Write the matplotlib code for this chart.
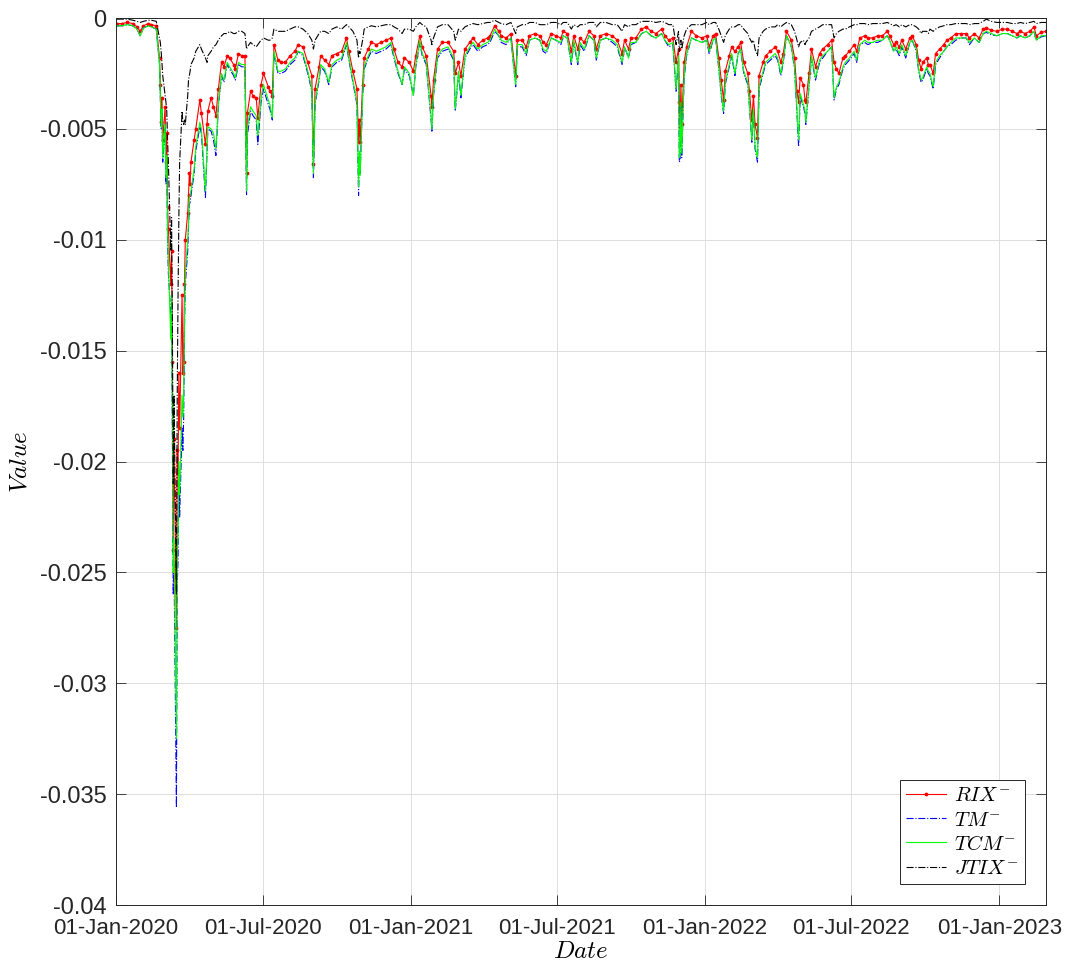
import matplotlib
matplotlib.use("Agg")
import matplotlib.pyplot as plt
import matplotlib.dates as mdates
import numpy as np
import pandas as pd

# downside tail-risk measures (x 1e-3), one value per observation date
dates = [
    # Jan - Feb 2020
    "2020-01-02", "2020-01-08", "2020-01-15", "2020-01-22", "2020-01-27", "2020-01-31",
    "2020-02-04", "2020-02-10", "2020-02-14", "2020-02-20",
    # Covid crash
    "2020-02-24", "2020-02-25", "2020-02-26", "2020-02-27", "2020-02-28",
    "2020-03-02", "2020-03-03", "2020-03-04", "2020-03-05", "2020-03-06",
    "2020-03-09", "2020-03-10", "2020-03-11", "2020-03-12", "2020-03-13",
    "2020-03-16", "2020-03-17", "2020-03-18", "2020-03-19", "2020-03-20",
    "2020-03-23", "2020-03-24", "2020-03-25", "2020-03-26", "2020-03-27",
    "2020-03-30", "2020-03-31", "2020-04-01", "2020-04-02", "2020-04-03",
    # Apr - Aug 2020
    "2020-04-07", "2020-04-09", "2020-04-14", "2020-04-16", "2020-04-21", "2020-04-23",
    "2020-04-24", "2020-04-28", "2020-05-01", "2020-05-04", "2020-05-07", "2020-05-11",
    "2020-05-14", "2020-05-18", "2020-05-21", "2020-05-26", "2020-05-28", "2020-06-01",
    "2020-06-05", "2020-06-09", "2020-06-11", "2020-06-12", "2020-06-16", "2020-06-19",
    "2020-06-23", "2020-06-25", "2020-06-29", "2020-07-02", "2020-07-08", "2020-07-10",
    "2020-07-13", "2020-07-15", "2020-07-20", "2020-07-24", "2020-07-29", "2020-08-04",
    "2020-08-10", "2020-08-14",
    # Aug 2020 - Apr 2021
    "2020-08-20", "2020-08-26", "2020-08-31", "2020-09-02", "2020-09-04", "2020-09-09",
    "2020-09-11", "2020-09-16", "2020-09-21", "2020-09-25", "2020-10-01", "2020-10-07",
    "2020-10-13", "2020-10-16", "2020-10-21", "2020-10-26", "2020-10-28", "2020-10-29",
    "2020-10-30", "2020-11-02", "2020-11-04", "2020-11-09", "2020-11-13", "2020-11-19",
    "2020-11-25", "2020-12-01", "2020-12-07", "2020-12-11", "2020-12-16", "2020-12-21",
    "2020-12-24", "2020-12-30", "2021-01-04", "2021-01-07", "2021-01-12", "2021-01-15",
    "2021-01-20", "2021-01-26", "2021-01-27", "2021-01-29", "2021-02-03", "2021-02-09",
    "2021-02-16", "2021-02-23", "2021-02-25", "2021-03-01", "2021-03-04", "2021-03-09",
    "2021-03-15", "2021-03-19", "2021-03-25", "2021-03-31", "2021-04-06",
    # Apr - Nov 2021
    "2021-04-09", "2021-04-15", "2021-04-20", "2021-04-23", "2021-04-29", "2021-05-05",
    "2021-05-11", "2021-05-13", "2021-05-19", "2021-05-24", "2021-05-28", "2021-06-04",
    "2021-06-10", "2021-06-14", "2021-06-18", "2021-06-24", "2021-06-30", "2021-07-06",
    "2021-07-09", "2021-07-14", "2021-07-19", "2021-07-22", "2021-07-27", "2021-07-30",
    "2021-08-04", "2021-08-10", "2021-08-16", "2021-08-19", "2021-08-24", "2021-08-31",
    "2021-09-08", "2021-09-14", "2021-09-20", "2021-09-23", "2021-09-28", "2021-10-01",
    "2021-10-07", "2021-10-14", "2021-10-20", "2021-10-26", "2021-11-01", "2021-11-08",
    "2021-11-12", "2021-11-17", "2021-11-22",
    # Nov 2021 - Jul 2022
    "2021-11-26", "2021-11-29", "2021-11-30", "2021-12-01", "2021-12-02", "2021-12-03",
    "2021-12-06", "2021-12-09", "2021-12-15", "2021-12-21", "2021-12-28", "2022-01-03",
    "2022-01-06", "2022-01-11", "2022-01-14", "2022-01-18", "2022-01-21", "2022-01-24",
    "2022-01-26", "2022-01-31", "2022-02-03", "2022-02-07", "2022-02-11", "2022-02-14",
    "2022-02-18", "2022-02-23", "2022-02-25", "2022-02-28", "2022-03-02", "2022-03-04",
    "2022-03-07", "2022-03-09", "2022-03-14", "2022-03-17", "2022-03-23", "2022-03-29",
    "2022-04-01", "2022-04-05", "2022-04-08", "2022-04-12", "2022-04-18", "2022-04-22",
    "2022-04-25", "2022-04-27", "2022-04-29", "2022-05-03", "2022-05-05", "2022-05-06",
    "2022-05-10", "2022-05-13", "2022-05-18", "2022-05-23", "2022-05-27", "2022-06-02",
    "2022-06-07", "2022-06-10", "2022-06-13", "2022-06-16", "2022-06-21", "2022-06-24",
    "2022-06-29", "2022-07-05",
    # Jul 2022 - Feb 2023
    "2022-07-08", "2022-07-12", "2022-07-18", "2022-07-22", "2022-07-28", "2022-08-03",
    "2022-08-09", "2022-08-15", "2022-08-18", "2022-08-23", "2022-08-26", "2022-08-30",
    "2022-09-02", "2022-09-07", "2022-09-12", "2022-09-15", "2022-09-20", "2022-09-23",
    "2022-09-26", "2022-09-28", "2022-10-03", "2022-10-05", "2022-10-07", "2022-10-11",
    "2022-10-14", "2022-10-19", "2022-10-24", "2022-10-28", "2022-11-02", "2022-11-08",
    "2022-11-14", "2022-11-21", "2022-11-25", "2022-12-01", "2022-12-07", "2022-12-12",
    "2022-12-16", "2022-12-22", "2022-12-29", "2023-01-05", "2023-01-11", "2023-01-17",
    "2023-01-23", "2023-01-27", "2023-02-02", "2023-02-08", "2023-02-13", "2023-02-16",
    "2023-02-22", "2023-02-28",
]

rix = [
    -0.25, -0.25, -0.2, -0.25, -0.4, -0.6, -0.35, -0.25, -0.3, -0.35,
    -1.8, -3.0, -4.7, -3.6, -5.5, -4.0, -6.5, -5.2, -8.5, -9.5,
    -12.0, -10.5, -15.5, -24.0, -19.0, -27.5, -19.5, -20.5, -16.0, -18.5,
    -12.5, -16.0, -15.5, -12.0, -10.0, -8.8, -8.0, -7.0, -7.5, -6.5,
    -5.5, -5.0, -3.7, -4.3, -5.7, -4.8, -4.2, -3.6, -4.0, -4.4, -3.2, -2.0,
    -2.2, -1.7, -1.8, -2.1, -2.3, -1.6, -1.7, -1.7, -7.0, -4.3, -3.3, -3.5,
    -3.6, -4.5, -3.0, -2.5, -3.1, -3.3, -3.5, -1.2, -1.9, -2.0, -2.0, -1.7,
    -1.5, -1.2,
    -1.3, -2.0, -2.6, -6.6, -3.2, -2.2, -1.7, -1.9, -2.1, -1.7, -1.6, -1.5,
    -0.9, -1.5, -2.4, -3.2, -5.6, -4.6, -5.6, -3.0, -1.8, -1.4, -1.1, -1.2,
    -1.1, -1.0, -0.9, -1.4, -2.0, -2.2, -1.8, -2.0, -2.4, -1.7, -0.8, -1.3,
    -1.7, -3.5, -4.0, -2.8, -1.4, -1.1, -1.1, -1.5, -2.5, -2.0, -2.6, -1.4,
    -1.1, -0.9, -1.2, -1.0, -0.9,
    -0.8, -0.35, -0.6, -0.8, -0.9, -0.7, -2.6, -1.0, -1.0, -1.3, -0.8, -0.7,
    -0.8, -1.1, -1.2, -0.7, -0.8, -0.9, -0.6, -0.7, -1.5, -0.8, -1.4, -0.9,
    -1.1, -0.6, -0.8, -1.4, -0.8, -0.7, -0.8, -1.0, -1.6, -1.0, -1.4, -0.9,
    -0.9, -0.5, -0.4, -0.6, -0.7, -0.5, -0.8, -1.0, -0.9,
    -2.0, -1.4, -3.8, -4.9, -3.0, -4.8, -2.0, -1.3, -0.6, -0.8, -0.9, -0.8,
    -1.3, -0.8, -0.7, -1.8, -2.8, -3.7, -2.4, -1.7, -1.3, -1.5, -1.3, -1.1,
    -2.0, -2.5, -3.3, -4.6, -3.5, -4.8, -5.4, -2.6, -2.0, -1.7, -1.5, -1.3,
    -1.5, -2.0, -1.6, -0.6, -1.0, -1.8, -3.3, -3.8, -2.7, -3.0, -3.7, -3.8,
    -2.5, -1.4, -2.2, -1.6, -1.4, -1.2, -1.0, -2.0, -2.3, -2.5, -1.8, -1.7,
    -1.5, -1.2,
    -1.5, -0.9, -0.8, -0.9, -0.9, -0.8, -0.8, -0.6, -0.8, -1.2, -1.1, -1.3,
    -1.0, -1.4, -0.9, -0.8, -1.2, -1.9, -2.3, -2.0, -1.8, -2.1, -2.1, -2.5,
    -1.6, -1.4, -1.2, -1.0, -0.9, -0.7, -0.7, -0.7, -0.9, -0.7, -0.9, -0.5,
    -0.45, -0.55, -0.6, -0.5, -0.5, -0.6, -0.7, -0.6, -0.7, -0.6, -0.4, -0.8,
    -0.65, -0.6,
]

tm = [
    -0.35, -0.35, -0.3, -0.35, -0.5, -0.8, -0.45, -0.35, -0.4, -0.5,
    -2.1, -3.5, -5.0, -4.3, -6.5, -5.0, -7.5, -6.5, -10.0, -11.5,
    -13.4, -13.0, -19.0, -26.0, -24.5, -35.6, -25.5, -24.5, -21.0, -22.5,
    -18.5, -19.5, -18.0, -14.0, -12.0, -10.5, -9.5, -8.4, -8.3, -8.0,
    -7.0, -6.0, -4.9, -5.2, -8.1, -6.0, -5.0, -5.1, -5.5, -6.2, -4.0, -2.6,
    -2.9, -2.1, -2.3, -2.6, -2.8, -2.1, -2.2, -2.2, -8.0, -5.3, -4.2, -4.4,
    -4.6, -5.7, -3.8, -3.2, -3.9, -4.1, -4.6, -1.6, -2.5, -2.5, -2.4, -2.1,
    -1.9, -1.5,
    -1.7, -2.5, -3.3, -7.2, -3.9, -2.8, -2.2, -2.4, -3.0, -2.2, -2.0, -1.9,
    -1.2, -1.9, -2.9, -3.9, -8.0, -6.2, -7.0, -3.6, -2.3, -1.8, -1.5, -1.6,
    -1.5, -1.4, -1.2, -1.8, -2.5, -3.0, -2.3, -2.6, -3.5, -2.2, -1.1, -1.7,
    -2.1, -4.6, -5.1, -3.5, -1.8, -1.5, -1.4, -1.9, -4.2, -2.5, -3.6, -1.8,
    -1.4, -1.2, -1.5, -1.3, -1.2,
    -1.1, -0.6, -0.8, -1.1, -1.2, -0.9, -3.1, -1.3, -1.3, -1.7, -1.0, -0.9,
    -1.0, -1.5, -1.6, -0.9, -1.0, -1.2, -0.8, -0.9, -2.1, -1.1, -2.1, -1.2,
    -1.5, -0.8, -1.0, -1.9, -1.0, -0.9, -1.1, -1.3, -2.1, -1.3, -1.8, -1.2,
    -1.1, -0.7, -0.6, -0.8, -0.9, -0.7, -1.0, -1.3, -1.2,
    -3.3, -1.8, -6.5, -6.4, -4.0, -6.3, -2.7, -1.7, -0.9, -1.0, -1.1, -1.0,
    -1.6, -1.0, -0.9, -2.3, -3.5, -4.3, -3.0, -2.2, -1.7, -2.6, -1.6, -1.4,
    -2.5, -3.0, -4.0, -5.6, -4.2, -5.9, -6.5, -3.2, -2.5, -2.1, -1.9, -1.7,
    -1.9, -2.6, -2.0, -0.8, -1.3, -2.3, -4.3, -5.8, -3.5, -4.0, -4.3, -4.8,
    -3.1, -1.8, -2.8, -2.0, -1.8, -1.5, -1.3, -3.7, -3.2, -3.0, -2.3, -2.1,
    -1.9, -1.6,
    -2.0, -1.2, -1.1, -1.2, -1.1, -1.1, -1.0, -0.8, -1.0, -1.5, -1.4, -1.7,
    -1.3, -1.8, -1.1, -1.0, -1.5, -2.4, -2.9, -2.8, -2.3, -2.5, -2.6, -3.2,
    -2.1, -1.8, -1.5, -1.3, -1.2, -1.0, -0.9, -0.9, -1.2, -0.9, -1.1, -0.7,
    -0.65, -0.75, -0.8, -0.7, -0.7, -0.8, -0.9, -0.8, -0.9, -0.8, -0.6, -1.0,
    -0.85, -0.8,
]

tcm = [
    -0.35, -0.35, -0.3, -0.35, -0.5, -0.8, -0.45, -0.35, -0.4, -0.5,
    -2.0, -3.4, -4.9, -4.1, -6.3, -4.8, -7.2, -6.2, -9.6, -11.0,
    -14.5, -12.5, -18.0, -25.0, -23.5, -32.5, -24.0, -23.5, -20.0, -21.5,
    -17.0, -18.0, -17.0, -13.5, -11.5, -10.0, -9.2, -8.1, -8.0, -7.8,
    -6.8, -5.8, -4.7, -5.0, -7.8, -5.8, -4.9, -5.0, -5.2, -5.9, -3.9, -2.5,
    -2.8, -2.0, -2.2, -2.5, -2.7, -2.0, -2.1, -2.1, -7.8, -5.0, -4.0, -4.2,
    -4.4, -5.3, -3.6, -3.0, -3.7, -3.9, -4.5, -1.5, -2.4, -2.4, -2.3, -2.0,
    -1.8, -1.5,
    -1.6, -2.4, -3.2, -7.0, -3.8, -2.7, -2.1, -2.3, -2.9, -2.1, -1.9, -1.8,
    -1.1, -1.8, -2.8, -3.8, -7.6, -6.0, -7.1, -3.5, -2.2, -1.7, -1.4, -1.5,
    -1.4, -1.3, -1.1, -1.7, -2.4, -3.0, -2.2, -2.5, -3.5, -2.1, -1.0, -1.6,
    -2.0, -4.4, -5.0, -3.4, -1.7, -1.4, -1.3, -1.8, -4.1, -2.4, -3.5, -1.7,
    -1.3, -1.1, -1.4, -1.2, -1.1,
    -1.0, -0.5, -0.8, -1.0, -1.1, -0.9, -3.0, -1.2, -1.2, -1.6, -1.0, -0.9,
    -1.0, -1.4, -1.5, -0.9, -1.0, -1.1, -0.8, -0.9, -2.0, -1.0, -2.0, -1.1,
    -1.4, -0.8, -1.0, -1.8, -1.0, -0.9, -1.0, -1.2, -2.0, -1.3, -1.8, -1.1,
    -1.1, -0.7, -0.6, -0.8, -0.9, -0.7, -1.0, -1.2, -1.1,
    -3.2, -1.7, -6.3, -6.2, -3.8, -6.1, -2.6, -1.6, -0.9, -1.0, -1.1, -1.0,
    -1.5, -1.0, -0.9, -2.2, -3.4, -4.2, -2.9, -2.1, -1.6, -2.5, -1.6, -1.4,
    -2.4, -2.9, -3.9, -5.5, -4.1, -5.8, -6.3, -3.1, -2.4, -2.0, -1.8, -1.6,
    -1.8, -2.5, -1.9, -0.8, -1.3, -2.2, -4.2, -5.5, -3.4, -3.9, -4.2, -4.7,
    -3.0, -1.7, -2.7, -1.9, -1.7, -1.5, -1.3, -3.6, -3.1, -2.9, -2.2, -2.0,
    -1.8, -1.5,
    -1.9, -1.2, -1.0, -1.1, -1.1, -1.0, -1.0, -0.8, -1.0, -1.5, -1.3, -1.6,
    -1.2, -1.7, -1.1, -1.0, -1.4, -2.3, -2.8, -2.7, -2.2, -2.4, -2.5, -3.1,
    -2.0, -1.7, -1.5, -1.3, -1.1, -0.9, -0.9, -0.9, -1.1, -0.9, -1.1, -0.7,
    -0.6, -0.7, -0.8, -0.7, -0.7, -0.8, -0.9, -0.8, -0.9, -0.8, -0.6, -1.0,
    -0.8, -0.8,
]

jtix = [
    -0.05, -0.05, -0.05, -0.1, -0.15, -0.2, -0.15, -0.1, -0.1, -0.15,
    -0.9, -1.1, -1.5, -2.0, -2.6, -3.5, -3.8, -4.2, -5.5, -6.5,
    -10.5, -9.0, -14.0, -21.0, -17.0, -26.0, -17.0, -12.5, -9.0, -6.5,
    -4.2, -4.7, -4.8, -4.6, -4.8, -3.5, -2.8, -2.6, -2.4, -2.1,
    -1.8, -1.5, -1.2, -1.4, -1.8, -2.0, -1.7, -1.5, -1.3, -1.2, -1.0, -0.8,
    -0.7, -0.7, -0.6, -0.7, -0.7, -0.6, -0.6, -0.7, -1.4, -1.3, -1.1, -1.2,
    -1.3, -1.2, -1.0, -0.9, -1.0, -1.0, -0.9, -0.5, -0.6, -0.6, -0.6, -0.5,
    -0.4, -0.4,
    -0.5, -0.7, -1.0, -1.4, -1.0, -0.7, -0.6, -0.6, -0.7, -0.5, -0.4, -0.5,
    -0.3, -0.4, -0.6, -1.0, -1.8, -1.5, -1.6, -1.0, -0.5, -0.4, -0.35, -0.4,
    -0.35, -0.3, -0.3, -0.4, -0.5, -0.7, -0.5, -0.5, -0.6, -0.4, -0.2, -0.3,
    -0.4, -1.0, -1.2, -0.9, -0.4, -0.3, -0.3, -0.6, -1.0, -0.5, -0.6, -0.4,
    -0.3, -0.25, -0.3, -0.25, -0.2,
    -0.2, -0.1, -0.2, -0.25, -0.3, -0.2, -0.7, -0.4, -0.3, -0.3, -0.2, -0.2,
    -0.3, -0.3, -0.3, -0.2, -0.2, -0.3, -0.2, -0.2, -0.5, -0.3, -0.4, -0.3,
    -0.3, -0.2, -0.2, -0.4, -0.2, -0.2, -0.3, -0.3, -0.6, -0.3, -0.4, -0.3,
    -0.3, -0.15, -0.15, -0.15, -0.2, -0.15, -0.2, -0.3, -0.3,
    -1.2, -0.6, -1.5, -1.2, -1.0, -1.4, -0.8, -0.5, -0.3, -0.3, -0.3, -0.2,
    -0.3, -0.2, -0.2, -0.5, -0.8, -1.1, -0.8, -0.5, -0.4, -0.4, -0.3, -0.3,
    -0.5, -0.7, -0.9, -1.1, -1.0, -1.4, -1.7, -0.9, -0.6, -0.5, -0.4, -0.4,
    -0.3, -0.4, -0.3, -0.2, -0.3, -0.6, -1.0, -1.3, -1.1, -1.0, -1.2, -1.1,
    -0.9, -0.6, -0.5, -0.4, -0.3, -0.3, -0.3, -0.9, -0.7, -0.6, -0.5, -0.5,
    -0.4, -0.3,
    -0.3, -0.25, -0.25, -0.3, -0.25, -0.25, -0.25, -0.2, -0.25, -0.35, -0.3, -0.4,
    -0.3, -0.4, -0.3, -0.3, -0.4, -0.5, -0.7, -0.6, -0.6, -0.7, -0.5, -0.6,
    -0.5, -0.4, -0.35, -0.3, -0.3, -0.25, -0.25, -0.25, -0.3, -0.25, -0.25, -0.15,
    -0.05, -0.15, -0.2, -0.2, -0.2, -0.25, -0.25, -0.2, -0.25, -0.2, -0.15, -0.25,
    -0.2, -0.2,
]

t = pd.to_datetime(dates)
scale = 1e-3


def fmt_y(v, pos):
    v = round(v, 4)
    if v == 0:
        return "0"
    return "%g" % v


plt.rcParams["font.family"] = "Liberation Sans"
plt.rcParams["mathtext.fontset"] = "cm"
plt.rcParams["axes.unicode_minus"] = False

fig = plt.figure(figsize=(10.68, 9.69), dpi=100)
ax = fig.add_axes([0.1086, 0.066, 0.8708, 0.9154])

ax.plot(t, np.array(rix) * scale, color=(1, 0, 0), lw=0.8, marker=".", ms=3.5,
        label=r"$RIX^{-}$")
ax.plot(t, np.array(tm) * scale, color=(0, 0, 1), lw=0.8, ls="-.",
        label=r"$TM^{-}$")
ax.plot(t, np.array(tcm) * scale, color=(0, 1, 0), lw=0.8,
        label=r"$TCM^{-}$")
ax.plot(t, np.array(jtix) * scale, color="k", lw=0.8, ls="-.",
        label=r"$JTIX^{-}$")

ax.set_xlim(pd.Timestamp("2020-01-01"), pd.Timestamp("2023-02-28"))
ax.set_ylim(-0.04, 0)
ax.set_yticks(np.arange(-0.04, 0.0001, 0.005))
ax.yaxis.set_major_formatter(plt.FuncFormatter(fmt_y))
ax.xaxis.set_major_locator(mdates.MonthLocator(bymonth=[1, 7]))
ax.xaxis.set_major_formatter(mdates.DateFormatter("%d-%b-%Y"))

ax.grid(True, color="#dedede", lw=0.7)
ax.set_axisbelow(True)
ax.tick_params(direction="in", length=7, width=0.6, top=True, right=True,
               colors="#262626")
ax.tick_params(axis="x", labelsize=16, pad=9)
ax.tick_params(axis="y", labelsize=17, pad=7)
for s in ax.spines.values():
    s.set_color("#262626")
    s.set_linewidth(0.7)

ax.set_xlabel(r"$Date$", fontsize=18, labelpad=0)
ax.set_ylabel(r"$Value$", fontsize=18, labelpad=6)

leg = ax.legend(loc="lower right", fontsize=15, handlelength=1.9,
                numpoints=1, fancybox=False, framealpha=1, edgecolor="#262626",
                borderaxespad=1.0, borderpad=0.3, labelspacing=0.25,
                handletextpad=0.4)
leg.get_frame().set_linewidth(0.7)

fig.savefig("out.png", dpi=100)
